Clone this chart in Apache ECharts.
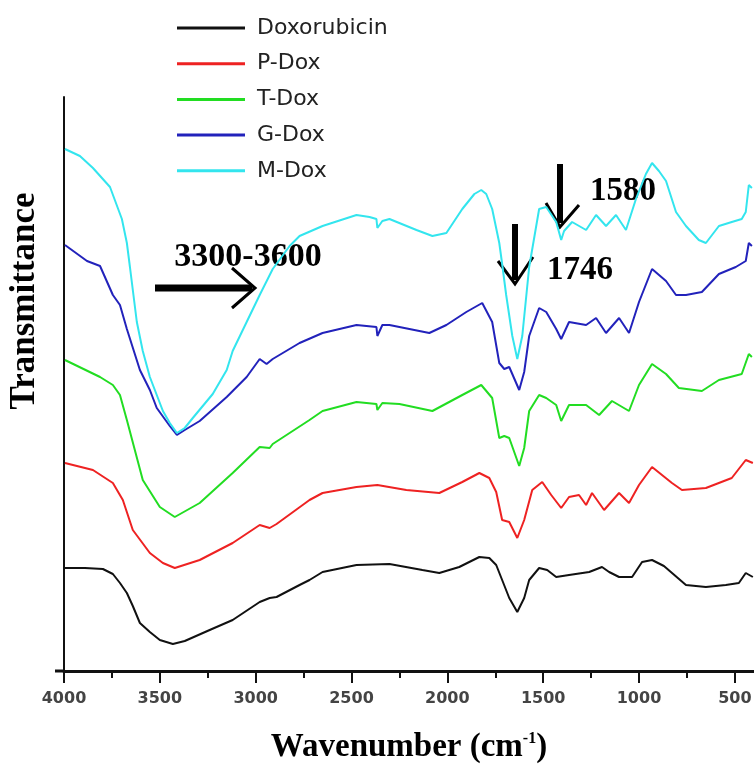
<!DOCTYPE html>
<html>
<head>
<meta charset="utf-8">
<script src="https://cdn.jsdelivr.net/npm/echarts@6/dist/echarts.min.js"></script>
<style>
  html, body { margin: 0; padding: 0; background: #fff; overflow: hidden; width: 754px; height: 767px; }
  #chart { position: absolute; left: 0; top: 0; width: 754px; height: 767px; }
</style>
</head>
<body>
<div id="chart"></div>
<script>
// FTIR spectra: wavenumber (cm-1) vs. transmittance (arbitrary units, stacked traces)
const seriesNames = ['Doxorubicin', 'P-Dox', 'T-Dox', 'G-Dox', 'M-Dox'];
const seriesColors = ['#111111', '#ee2222', '#22dd22', '#2222bb', '#33e5ee'];

const majorTicks = [4000, 3500, 3000, 2500, 2000, 1500, 1000, 500];
const minorTicks = [3750, 3250, 2750, 2250, 1750, 1250, 750];

const doxorubicin = [
  [3995, 10.3], [3891, 10.3], [3797, 10.2], [3745, 9.7], [3708, 8.8], [3672, 7.8],
  [3641, 6.5], [3604, 4.8], [3552, 3.9], [3500, 3.1], [3432, 2.7], [3370, 3.0],
  [3240, 4.1], [3120, 5.1], [2979, 6.9], [2927, 7.3], [2891, 7.4], [2771, 8.6],
  [2719, 9.1], [2651, 9.9], [2474, 10.6], [2302, 10.7], [2130, 10.1], [2042, 9.8],
  [1938, 10.4], [1833, 11.4], [1781, 11.3], [1745, 10.6], [1714, 9.1], [1677, 7.3],
  [1635, 5.9], [1599, 7.3], [1573, 9.1], [1521, 10.3], [1479, 10.1], [1432, 9.4],
  [1365, 9.6], [1260, 9.9], [1193, 10.4], [1156, 9.9], [1104, 9.4], [1036, 9.4],
  [984, 10.9], [932, 11.1], [870, 10.5], [755, 8.6], [651, 8.4], [547, 8.6],
  [479, 8.8], [443, 9.8], [406, 9.4]
];

const pDox = [
  [3995, 20.8], [3849, 20.1], [3745, 18.8], [3693, 17.1], [3641, 14.1], [3552, 11.8],
  [3484, 10.8], [3422, 10.3], [3292, 11.1], [3120, 12.8], [2979, 14.6], [2927, 14.3],
  [2891, 14.7], [2719, 17.1], [2651, 17.8], [2474, 18.4], [2365, 18.6], [2214, 18.1],
  [2042, 17.8], [1922, 18.9], [1833, 19.8], [1781, 19.3], [1745, 17.9], [1714, 15.1],
  [1677, 14.9], [1635, 13.3], [1599, 15.1], [1557, 18.1], [1505, 18.9], [1458, 17.6],
  [1406, 16.3], [1365, 17.4], [1313, 17.6], [1276, 16.6], [1245, 17.8], [1182, 16.1],
  [1104, 17.8], [1052, 16.8], [1000, 18.6], [932, 20.4], [828, 18.8], [776, 18.1],
  [651, 18.3], [516, 19.3], [443, 21.1], [406, 20.8]
];

const tDox = [
  [3995, 31.1], [3812, 29.4], [3745, 28.6], [3708, 27.6], [3672, 25.1], [3589, 19.1],
  [3500, 16.4], [3422, 15.4], [3292, 16.8], [3120, 19.8], [2979, 22.4], [2927, 22.3],
  [2911, 22.7], [2719, 25.1], [2651, 26.0], [2474, 26.9], [2370, 26.7], [2365, 26.1],
  [2339, 26.8], [2250, 26.7], [2078, 26.0], [1922, 27.6], [1823, 28.6], [1766, 27.3],
  [1729, 23.3], [1703, 23.5], [1677, 23.3], [1625, 20.5], [1599, 22.3], [1573, 26.0],
  [1521, 27.6], [1484, 27.3], [1432, 26.6], [1406, 25.0], [1365, 26.6], [1276, 26.6],
  [1208, 25.6], [1141, 27.0], [1052, 26.0], [1000, 28.6], [932, 30.7], [859, 29.7],
  [792, 28.3], [672, 28.0], [583, 29.1], [464, 29.7], [427, 31.7], [411, 31.4]
];

const gDox = [
  [3995, 42.6], [3880, 41.0], [3812, 40.5], [3745, 37.6], [3708, 36.6], [3672, 34.2],
  [3604, 30.1], [3552, 28.1], [3516, 26.3], [3448, 24.5], [3411, 23.6], [3370, 24.1],
  [3292, 25.0], [3151, 27.4], [3047, 29.4], [2979, 31.2], [2943, 30.7], [2911, 31.2],
  [2771, 32.8], [2651, 33.8], [2474, 34.6], [2370, 34.4], [2365, 33.5], [2339, 34.6],
  [2302, 34.6], [2094, 33.8], [2005, 34.6], [1901, 35.9], [1818, 36.8], [1766, 34.9],
  [1729, 30.8], [1703, 30.2], [1677, 30.4], [1625, 28.1], [1599, 29.9], [1573, 33.5],
  [1521, 36.3], [1484, 35.9], [1432, 34.2], [1406, 33.2], [1365, 34.9], [1276, 34.6],
  [1224, 35.3], [1172, 33.8], [1104, 35.3], [1052, 33.8], [1000, 36.9], [932, 40.2],
  [859, 39.0], [807, 37.6], [755, 37.6], [672, 37.9], [583, 39.7], [495, 40.4],
  [443, 41.0], [427, 42.8], [411, 42.5]
];

const mDox = [
  [3995, 52.2], [3917, 51.5], [3849, 50.3], [3760, 48.4], [3698, 45.2], [3672, 42.8],
  [3656, 40.4], [3620, 34.9], [3589, 32.0], [3552, 29.4], [3484, 26.0], [3448, 24.8],
  [3411, 23.8], [3370, 24.3], [3328, 25.3], [3224, 27.7], [3151, 30.1], [3120, 32.0],
  [3047, 34.9], [2979, 37.6], [2911, 40.2], [2823, 42.5], [2771, 43.5], [2651, 44.5],
  [2474, 45.6], [2406, 45.4], [2370, 45.2], [2365, 44.3], [2339, 45.0], [2302, 45.2],
  [2161, 44.1], [2078, 43.5], [2005, 43.8], [1922, 46.2], [1859, 47.7], [1823, 48.1],
  [1797, 47.7], [1766, 46.2], [1729, 42.8], [1714, 40.7], [1693, 37.6], [1661, 33.5],
  [1635, 31.2], [1609, 33.5], [1573, 40.4], [1521, 46.2], [1484, 46.4], [1432, 44.9],
  [1406, 43.1], [1391, 44.0], [1349, 44.9], [1276, 44.1], [1224, 45.6], [1172, 44.5],
  [1120, 45.6], [1068, 44.1], [1016, 47.2], [964, 49.7], [932, 50.8], [896, 50.0],
  [859, 49.0], [807, 45.9], [755, 44.5], [688, 43.1], [651, 42.8], [583, 44.5],
  [516, 44.9], [464, 45.2], [443, 45.9], [427, 48.6], [411, 48.3]
];

const spectra = [doxorubicin, pDox, tDox, gDox, mDox];

const serif = '"Liberation Serif", "Times New Roman", serif';

const chart = echarts.init(document.getElementById('chart'), null, { renderer: 'canvas', width: 754, height: 767 });

const axisBase = {
  type: 'value',
  min: 400,
  max: 4000,
  inverse: true,
  position: 'bottom',
  splitLine: { show: false }
};

chart.setOption({
  backgroundColor: '#ffffff',
  animation: false,
  grid: { left: 64, right: 0, top: 97, bottom: 96, containLabel: false, outerBoundsMode: 'none' },
  legend: {
    orient: 'vertical',
    left: 172,
    top: 11,
    icon: 'rect',
    itemWidth: 68,
    itemHeight: 3,
    itemGap: 11.7,
    data: seriesNames,
    textStyle: {
      fontFamily: '"DejaVu Sans", sans-serif',
      fontSize: 22,
      lineHeight: 24,
      color: '#222',
      padding: [0, 0, 0, 7]
    }
  },
  xAxis: [
    Object.assign({}, axisBase, {
      name: 'Wavenumber (cm{sup|-1})',
      nameLocation: 'middle',
      nameGap: 60,
      nameTextStyle: {
        fontFamily: serif,
        fontSize: 33,
        fontWeight: 'bold',
        color: '#000',
        rich: {
          sup: { fontFamily: serif, fontSize: 16, fontWeight: 'bold', color: '#000', verticalAlign: 'top', padding: [0, 0, 14, 0] }
        }
      },
      axisLine: { show: true, onZero: false, lineStyle: { color: '#111', width: 3 } },
      axisTick: { show: true, customValues: majorTicks, length: 12, inside: false, lineStyle: { color: '#111', width: 2 } },
      axisLabel: {
        show: true,
        customValues: majorTicks,
        formatter: (v) => String(v),
        margin: 20,
        fontFamily: '"DejaVu Sans", sans-serif',
        fontWeight: 'bold',
        fontSize: 16,
        color: '#444'
      }
    }),
    Object.assign({}, axisBase, {
      axisLine: { show: false },
      axisTick: { show: true, customValues: minorTicks, length: 7, lineStyle: { color: '#111', width: 2 } },
      axisLabel: { show: false }
    })
  ],
  yAxis: {
    type: 'value',
    min: 0,
    max: 57.4,
    axisLine: { show: true, onZero: false, lineStyle: { color: '#111', width: 2 } },
    axisTick: { show: false },
    axisLabel: { show: false },
    splitLine: { show: false }
  },
  series: seriesNames.map((name, i) => ({
    name: name,
    type: 'line',
    xAxisIndex: 0,
    data: spectra[i],
    showSymbol: false,
    symbol: 'none',
    smooth: false,
    color: seriesColors[i],
    lineStyle: { color: seriesColors[i], width: 2 },
    z: 2 + i
  })),
  graphic: [
    // short stub of the x-axis to the left of the y-axis
    { type: 'line', shape: { x1: 55, y1: 671, x2: 64, y2: 671 }, style: { stroke: '#111', lineWidth: 3 } },
    // y-axis title
    {
      type: 'text', x: 25, y: 301, rotation: Math.PI / 2,
      style: { text: 'Transmittance', font: 'bold 35px ' + serif, fill: '#000', align: 'center', verticalAlign: 'middle' }
    },
    // O-H stretch band annotation
    {
      type: 'text', x: 248, y: 257,
      style: { text: '3300-3600', font: 'bold 34px ' + serif, fill: '#000', align: 'center', verticalAlign: 'middle' }
    },
    { type: 'line', shape: { x1: 155, y1: 288, x2: 252, y2: 288 }, style: { stroke: '#000', lineWidth: 7 } },
    { type: 'polyline', shape: { points: [[232, 268], [255, 288], [232, 308]] }, style: { stroke: '#000', lineWidth: 3, fill: null } },
    // 1746 band annotation
    { type: 'line', shape: { x1: 515, y1: 224, x2: 515, y2: 280 }, style: { stroke: '#000', lineWidth: 6 } },
    { type: 'polyline', shape: { points: [[498, 261], [515, 284], [533, 257]] }, style: { stroke: '#000', lineWidth: 3, fill: null } },
    {
      type: 'text', x: 580, y: 270,
      style: { text: '1746', font: 'bold 33px ' + serif, fill: '#000', align: 'center', verticalAlign: 'middle' }
    },
    // 1580 band annotation
    { type: 'line', shape: { x1: 560, y1: 164, x2: 560, y2: 223 }, style: { stroke: '#000', lineWidth: 6 } },
    { type: 'polyline', shape: { points: [[546, 203], [560, 227], [579, 205]] }, style: { stroke: '#000', lineWidth: 3, fill: null } },
    {
      type: 'text', x: 623, y: 191,
      style: { text: '1580', font: 'bold 33px ' + serif, fill: '#000', align: 'center', verticalAlign: 'middle' }
    }
  ]
});
</script>
</body>
</html>
